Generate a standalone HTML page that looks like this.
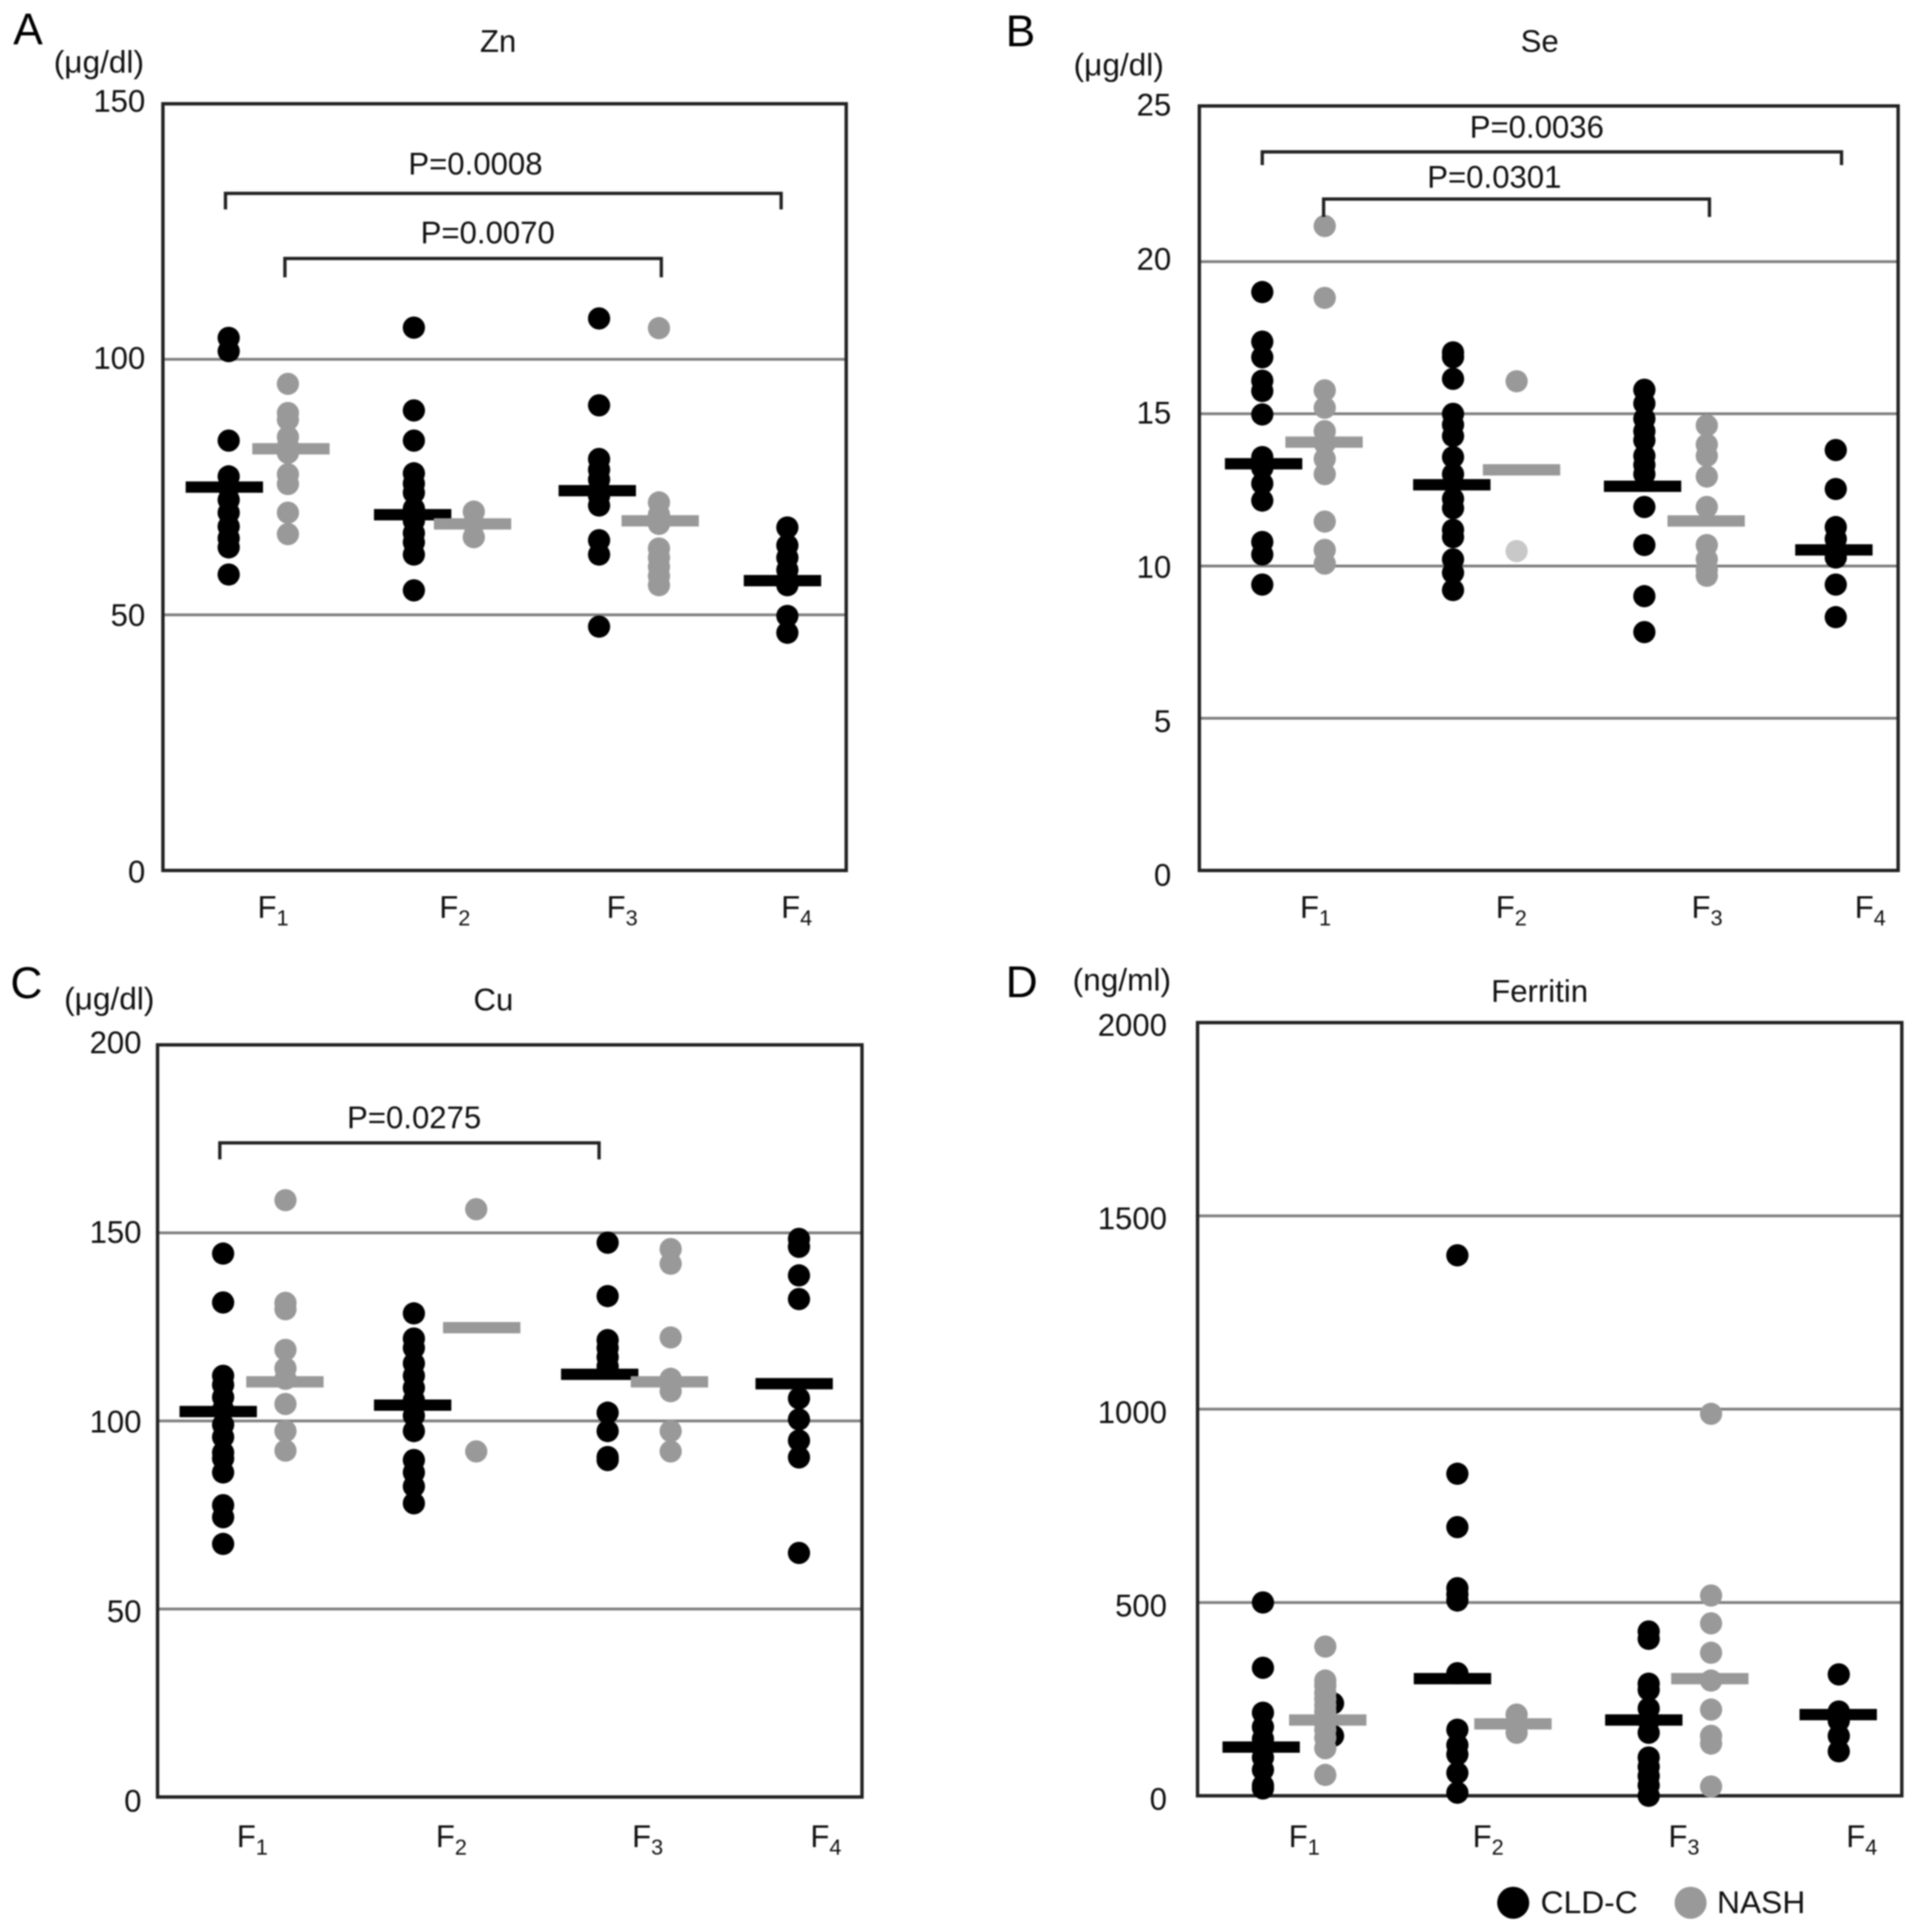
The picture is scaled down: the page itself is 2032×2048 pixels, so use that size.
<!DOCTYPE html>
<html lang="en">
<head>
<meta charset="utf-8">
<title>Zn, Se, Cu and Ferritin by fibrosis stage</title>
<style>
html,body{margin:0;padding:0;background:#fff;}
body{width:2032px;height:2048px;overflow:hidden;}
svg{display:block;filter:blur(0.7px);}
text{font-family:"Liberation Sans",sans-serif;fill:#111;font-size:33px;}
.letter{font-size:47px;fill:#000;}
.unit{font-size:33.5px;}
.legend-text{font-size:33.7px;}
.bracket{fill:none;stroke:#222;stroke-width:3.5;}
</style>
</head>
<body>
<svg id="figure" xmlns="http://www.w3.org/2000/svg" width="2032" height="2048" viewBox="0 0 2032 2048">
  <rect x="0" y="0" width="2032" height="2048" fill="#fff"/>

  <g id="panel-zn">
    <text class="letter" x="14" y="47">A</text>
    <text class="unit" x="57" y="77">(μg/dl)</text>
    <text x="528" y="55" text-anchor="middle">Zn</text>
    <g id="marks-zn"></g>
    <path class="bracket" d="M239 222V205H828V222"/>
    <text x="504" y="185" text-anchor="middle">P=0.0008</text>
    <path class="bracket" d="M302 294V274H701V294"/>
    <text x="517" y="258" text-anchor="middle">P=0.0070</text>
  </g>

  <g id="panel-se">
    <text class="letter" x="1066" y="49">B</text>
    <text class="unit" x="1138" y="80">(μg/dl)</text>
    <text x="1632" y="55" text-anchor="middle">Se</text>
    <g id="marks-se"></g>
    <path class="bracket" d="M1338 175V161H1952V175"/>
    <text x="1629" y="146" text-anchor="middle">P=0.0036</text>
    <path class="bracket" d="M1403 230V211H1812V230"/>
    <text x="1584" y="199" text-anchor="middle">P=0.0301</text>
  </g>

  <g id="panel-cu">
    <text class="letter" x="11" y="1058">C</text>
    <text class="unit" x="68" y="1070">(μg/dl)</text>
    <text x="523" y="1071" text-anchor="middle">Cu</text>
    <g id="marks-cu"></g>
    <path class="bracket" d="M233 1229V1211.5H635V1229"/>
    <text x="439" y="1196" text-anchor="middle">P=0.0275</text>
  </g>

  <g id="panel-ferritin">
    <text class="letter" x="1066" y="1057">D</text>
    <text class="unit" x="1137" y="1050">(ng/ml)</text>
    <text x="1632" y="1062" text-anchor="middle">Ferritin</text>
    <g id="marks-ferritin"></g>
  </g>

  <g>
    <circle cx="1604" cy="2017" r="17" fill="#000"/>
    <text class="legend-text" x="1633" y="2028">CLD-C</text>
    <circle cx="1792" cy="2017" r="17" fill="#999"/>
    <text class="legend-text" x="1820" y="2028">NASH</text>
  </g>
</svg>

<script>
const categories = ['1', '2', '3', '4'];

const znTicks = [0, 50, 100, 150];
const znCld = [
  [104.2, 101.6, 84.1, 77.1, 75, 72.5, 70, 67.3, 65, 63.2, 57.9],
  [106.2, 90, 84.1, 77.7, 75.7, 73.9, 70.8, 68.4, 66, 64.2, 61.8, 54.8],
  [108, 91, 80.5, 78.4, 76.5, 74.5, 73.3, 71.4, 64.6, 61.8, 47.7],
  [67.1, 63.6, 61.2, 58.8, 55.8, 49.8, 46.5]
];
const znNash = [
  [95.2, 89.5, 88.2, 84.8, 83, 81.7, 77.5, 75.6, 70, 65.8],
  [70.2, 67.8, 65.2],
  [106.1, 72, 69.6, 67.8, 63, 61.2, 59.4, 57.6, 55.8]
];
const znCldMeans = [75, 69.6, 74.3, 56.7];
const znNashMeans = [82.5, 67.8, 68.4];

const seTicks = [0, 5, 10, 15, 20, 25];
const seCld = [
  [19, 17.37, 16.86, 16.09, 15.75, 14.98, 13.58, 13.22, 12.71, 12.15, 10.79, 10.38, 9.39],
  [17.02, 16.86, 16.15, 15, 14.64, 14.27, 13.58, 13.02, 12.21, 11.9, 11.19, 10.95, 10.22, 9.78, 9.21],
  [15.79, 15.34, 14.84, 14.43, 14.13, 13.62, 13.32, 13.02, 11.94, 10.69, 9.01, 7.83],
  [13.81, 12.53, 11.28, 10.89, 10.49, 10.28, 9.39, 8.32]
];
const seNash = [
  [21.17, 18.81, 15.77, 15.2, 14.43, 14.03, 13.52, 13.02, 11.46, 10.53, 10.08],
  [16.07],
  [14.62, 13.99, 13.62, 12.94, 11.94, 10.69, 10.22, 9.88, 9.68]
];
const seNashFaded = [[], [10.49], []];
const seCldMeans = [13.36, 12.67, 12.62, 10.53];
const seNashMeans = [14.07, 13.16, 11.48];

const cuTicks = [0, 50, 100, 150, 200];
const cuCld = [
  [144.5, 131.5, 112, 109.6, 106.3, 103, 99, 95.7, 91.6, 90, 86.3, 77.6, 74.4, 67.3],
  [128.6, 121.9, 119.4, 115.3, 112, 108.8, 105.5, 101.4, 97.3, 89.6, 86.3, 82.6, 78.1],
  [147.4, 133.2, 121.5, 119.4, 117, 114.5, 102.2, 97.3, 90.4, 89.6],
  [148.4, 146.3, 138.7, 132.4, 106, 100.4, 94.8, 90.3, 64.9]
];
const cuNash = [
  [158.7, 131.4, 129.7, 118.9, 114, 111.2, 104.5, 97.3, 92.1],
  [156.3, 91.9],
  [145.7, 141.8, 122.2, 111.2, 107.9, 97.3, 91.9]
];
const cuCldMeans = [102.5, 104.2, 112.4, 109.9];
const cuNashMeans = [110.4, 124.8, 110.4];

const ferritinTicks = [0, 500, 1000, 1500, 2000];
const ferritinCld = [
  [500, 331, 215, 178, 147, 123, 99, 67, 27, 19],
  [1398, 833, 695, 537, 521, 505, 317, 171, 131, 107, 59, 8],
  [425, 406, 290, 274, 226, 194, 163, 99, 75, 51, 27, 0],
  [314, 218, 194, 155, 115]
];
const ferritinCldHidden = [[239, 155], [], []];
const ferritinNash = [
  [386, 298, 285, 266, 250, 234, 218, 202, 187, 171, 150, 123, 54],
  [210, 190, 163],
  [988, 518, 446, 370, 298, 223, 155, 135, 24]
];
const ferritinCldMeans = [126, 303, 196, 210];
const ferritinNashMeans = [196, 186, 303];

const SVG_NS = 'http://www.w3.org/2000/svg';

function makeEl(tag, parent) {
  const el = document.createElementNS(SVG_NS, tag);
  parent.appendChild(el);
  return el;
}

function drawDots(host, key, seriesName, rows, xs, color, yOf) {
  rows.forEach(function (row, c) {
    row.forEach(function (v) {
      const el = makeEl('circle', host);
      
      
      el.setAttribute('cx', xs[c]);
      el.setAttribute('cy', yOf(v));
      el.setAttribute('r', 11.8);
      el.setAttribute('fill', color);
    });
  });
}

function drawMeans(host, key, seriesName, means, xs, color, yOf) {
  means.forEach(function (v, c) {
    const el = makeEl('rect', host);
    
    
    el.setAttribute('x', xs[c] - 41);
    el.setAttribute('y', yOf(v) - 6);
    el.setAttribute('width', 82);
    el.setAttribute('height', 12);
    el.setAttribute('fill', color);
  });
}

function drawPanel(cfg) {
  const host = document.getElementById('marks-' + cfg.key);
  const maxTick = cfg.ticks[cfg.ticks.length - 1];
  const yOf = function (v) {
    return cfg.y0 - (v / maxTick) * (cfg.y0 - cfg.yMax);
  };

  cfg.ticks.forEach(function (t, i) {
    if (i > 0 && i < cfg.ticks.length - 1) {
      const line = makeEl('line', host);
      
      
      line.setAttribute('x1', cfg.left);
      line.setAttribute('x2', cfg.right);
      line.setAttribute('y1', yOf(t));
      line.setAttribute('y2', yOf(t));
      line.setAttribute('stroke', '#808080');
      line.setAttribute('stroke-width', 3);
    }
    const label = makeEl('text', host);
    
    
    label.setAttribute('x', cfg.tickRight);
    const nudge = cfg.labelNudgeBottom + (cfg.labelNudgeTop - cfg.labelNudgeBottom) * (t / maxTick);
    label.setAttribute('y', yOf(t) + 11.5 + nudge);
    label.setAttribute('text-anchor', 'end');
    label.textContent = t;
  });

  const frame = makeEl('rect', host);
  
  
  frame.setAttribute('x', cfg.left);
  frame.setAttribute('y', cfg.frameTop);
  frame.setAttribute('width', cfg.right - cfg.left);
  frame.setAttribute('height', cfg.y0 - cfg.frameTop);
  frame.setAttribute('fill', 'none');
  frame.setAttribute('stroke', '#222');
  frame.setAttribute('stroke-width', 3.6);

  categories.forEach(function (cat, c) {
    const label = makeEl('text', host);
    
    
    label.setAttribute('x', cfg.labelX[c]);
    label.setAttribute('y', cfg.labelY);
    label.textContent = 'F';
    const sub = makeEl('tspan', label);
    sub.setAttribute('dy', 8);
    sub.setAttribute('style', 'font-size:23px');
    sub.textContent = cat;
  });

  if (cfg.hidden) {
    drawDots(host, cfg.key, 'cld-c-hidden', cfg.hidden, cfg.hiddenX, '#000', yOf);
  }
  drawDots(host, cfg.key, 'cld-c', cfg.cld, cfg.cldX, '#000', yOf);
  drawDots(host, cfg.key, 'nash', cfg.nash, cfg.nashX, '#999', yOf);
  if (cfg.faded) {
    drawDots(host, cfg.key, 'nash-faded', cfg.faded, cfg.nashX, '#c8c8c8', yOf);
  }
  drawMeans(host, cfg.key, 'cld-c', cfg.cldMeans, cfg.cldBarX, '#000', yOf);
  drawMeans(host, cfg.key, 'nash', cfg.nashMeans, cfg.nashBarX, '#999', yOf);
}

drawPanel({
  key: 'zn', ticks: znTicks, cld: znCld, nash: znNash, cldMeans: znCldMeans, nashMeans: znNashMeans,
  left: 172.7, right: 897, y0: 922.7, yMax: 110, frameTop: 110, tickRight: 154,
  labelNudgeTop: -3, labelNudgeBottom: 1.5,
  cldX: [242.4, 438.7, 635, 834.6], nashX: [305.2, 502.2, 698.5],
  cldBarX: [237.8, 437.4, 633.1, 829.4], nashBarX: [308.4, 500.9, 699.8],
  labelX: [273, 465.6, 643, 828], labelY: 973
});

drawPanel({
  key: 'se', ticks: seTicks, cld: seCld, nash: seNash, faded: seNashFaded, cldMeans: seCldMeans, nashMeans: seNashMeans,
  left: 1271.3, right: 2012, y0: 922.7, yMax: 116, frameTop: 112.3, tickRight: 1241.5,
  labelNudgeTop: -5, labelNudgeBottom: 5,
  cldX: [1338, 1540.2, 1743, 1945.9], nashX: [1404.2, 1607.6, 1809.2],
  cldBarX: [1339.4, 1538.9, 1741.1, 1943.9], nashBarX: [1403.5, 1612.8, 1808.5],
  labelX: [1378, 1585.5, 1793, 1966], labelY: 973
});

drawPanel({
  key: 'cu', ticks: cuTicks, cld: cuCld, nash: cuNash, cldMeans: cuCldMeans, nashMeans: cuNashMeans,
  left: 167, right: 913.7, y0: 1904.9, yMax: 1107.6, frameTop: 1107.6, tickRight: 150,
  labelNudgeTop: -2.6, labelNudgeBottom: 4,
  cldX: [236.5, 438.7, 644.1, 846.9], nashX: [302.6, 504.8, 710.9],
  cldBarX: [231.3, 437.4, 635.7, 841.8], nashBarX: [302, 510.6, 709.6],
  labelX: [251, 462, 670, 859], labelY: 1958
});

drawPanel({
  key: 'ferritin', ticks: ferritinTicks, cld: ferritinCld, nash: ferritinNash, hidden: ferritinCldHidden, hiddenX: [1413, 1613, 1820],
  cldMeans: ferritinCldMeans, nashMeans: ferritinNashMeans,
  left: 1269.4, right: 2015.9, y0: 1903.6, yMax: 1084, frameTop: 1084, tickRight: 1237,
  labelNudgeTop: 2.6, labelNudgeBottom: 3.5,
  cldX: [1338.7, 1544.8, 1747.6, 1949.1], nashX: [1404.8, 1607.6, 1813.7],
  cldBarX: [1336.8, 1539.6, 1742.4, 1948.5], nashBarX: [1407.4, 1603.7, 1812.4],
  labelX: [1366, 1561, 1768.5, 1957], labelY: 1958
});
</script>
</body>
</html>
